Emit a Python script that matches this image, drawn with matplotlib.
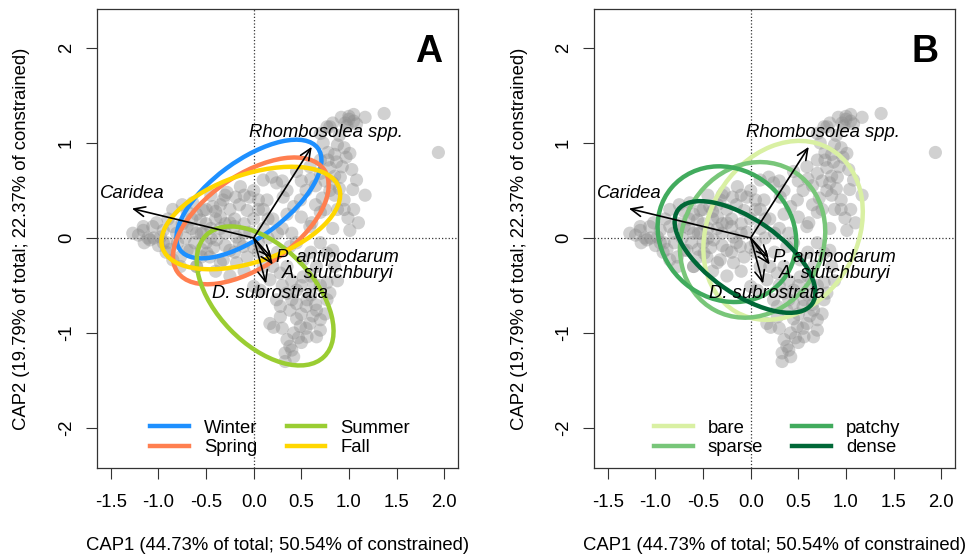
import matplotlib

matplotlib.use('Agg')

import matplotlib.pyplot as plt
from matplotlib.patches import Ellipse

plt.rcParams['font.family'] = ['Liberation Sans', 'DejaVu Sans']
plt.rcParams['axes.unicode_minus'] = False

# site scores (CAP1, CAP2)
cap1 = [1.17, 1.37, 1.94, 0.96, 1.00, 1.05, 0.92, 0.80, 1.01, 0.87, 1.03, 1.08, 1.04, 1.17,
        0.80, 0.91, 0.78, 0.70, 0.99, 1.10, 1.01, 0.83, 0.70, 0.59, 0.83, 0.77, 0.77, 0.78,
        0.83, 0.49, 0.42, 0.61, 0.19, 0.10, 0.24, 0.70, 0.59, 0.73, 0.83, 0.14, 0.31, 0.88,
        0.95, 0.85, 0.93, 0.65, 0.55, 0.35, 0.50, 0.72, 0.88, 0.95,
        1.00, 1.05, 0.98, 1.08, 0.75, 0.80, 0.90, 0.85, 0.65, 0.75, 0.95, 1.05, 0.60, 0.50,
        0.45, 0.35, 0.30, 0.85, 0.97, 0.90, 0.70,
        -0.14, -0.04, -0.19, -0.32, -0.07, -0.43, -0.53, -0.64, -0.56, -0.35, -0.25, -0.70,
        -0.81, -1.06, -1.16, -1.21, -1.09, -0.98, -0.91, -0.53, -0.39, -0.18, -0.04, -0.70,
        -0.49, -0.25, -0.11, -0.35, -0.60, -1.27, -1.16, -1.11, -1.02, -0.95, -0.85, -0.77,
        -0.46, -0.32, -0.18, -0.07, -0.67, -0.77, -0.60,
        -0.60, -0.45, -0.30, -0.20, -0.10, 0.00, -0.40, -0.50, -0.65, -0.75, -0.85, -0.90,
        -0.80, -0.62, -0.50, -0.30, -0.15, 0.05, 0.10, 0.20, 0.25, 0.10, -0.25, -0.35,
        -0.15, -0.45, -0.28, 0.00, 0.05, -0.55, -0.40, -0.25, -0.10, 0.05, 0.15, 0.30,
        0.40, -0.70, -0.95, -1.00,
        -0.65, -0.55, -0.45, -0.35, -0.30, -0.20, -0.10, -0.60, -0.50, -0.40, -0.72, -0.88,
        -0.55, -0.42, -0.20, 0.00, -0.30, -0.10, 0.05, 0.15, -0.75, -0.85, -1.05, -1.15,
        -0.92,
        0.17, 0.28, 0.38, 0.45, 0.56, 0.66, 0.70, 0.59, 0.49, 0.42, 0.35, 0.38, 0.33, 0.42,
        0.66, 0.56, 0.70, 0.77, 0.80, 0.63, 0.45, 0.35, 0.24, 0.52, 0.38, 0.45, 0.28, 0.52,
        0.66, 0.77, 0.17, 0.28, 0.21, 0.00, 0.07, 0.60, 0.65, 0.50, 0.45, 0.62, 0.55, 0.40,
        0.30, 0.20, 0.35, 0.60, 0.70, 0.85, 0.88, 0.50, 0.40, 0.33,
        0.50, 0.60, 0.70, 0.75, 0.55, 0.47, 0.30, 0.40, 0.25, 0.10]
cap2 = [1.27, 1.31, 0.90, 1.21, 1.25, 1.23, 1.27, 1.17, 0.89, 0.80, 0.72, 0.61, 0.51, 0.45,
        0.74, 0.64, 0.90, 0.82, 0.21, 0.16, 0.08, 0.10, 0.27, 0.12, -0.13, -0.16, 1.17, 0.82,
        0.58, 0.40, 0.33, 0.16, 0.64, 0.61, 0.58, 0.68, 0.75, 1.00, 1.21, 0.40, 0.43, 0.98,
        0.95, 0.88, 0.75, 0.55, 0.50, 0.25, 0.22, 0.42, 0.30, 0.40,
        1.28, 1.30, 1.18, 1.20, 0.60, 0.50, 0.52, 0.45, 0.35, 0.30, 0.30, 0.30, 0.62, 0.60,
        0.70, 0.50, 0.60, 0.65, 0.85, 1.08, 1.10,
        0.54, 0.43, 0.43, 0.40, 0.29, 0.33, 0.29, 0.37, 0.19, 0.22, 0.16, 0.12,
        0.05, 0.12, 0.08, 0.03, -0.02, 0.01, -0.05, 0.05, -0.02, 0.01, 0.06, -0.13,
        -0.16, -0.13, -0.09, -0.26, -0.30, 0.05, 0.12, 0.00, 0.16, -0.05, -0.23, -0.30,
        -0.20, -0.23, -0.26, -0.20, -0.13, -0.20, -0.30,
        0.05, 0.10, 0.05, 0.12, 0.15, 0.20, 0.20, 0.15, 0.20, 0.15, 0.12, 0.20,
        -0.05, -0.05, -0.05, -0.08, -0.05, -0.05, 0.10, 0.20, 0.05, 0.30, 0.30, 0.35,
        0.35, 0.45, 0.48, 0.50, 0.40, -0.20, -0.35, -0.40, -0.35, -0.15, 0.00, 0.10,
        0.05, 0.28, 0.08, -0.08,
        0.10, 0.05, 0.00, 0.10, 0.15, 0.20, 0.05, 0.25, 0.30, 0.28, 0.00, -0.12,
        -0.12, -0.10, -0.15, -0.10, 0.45, 0.45, 0.30, 0.20, 0.35, 0.30, 0.00, -0.05,
        -0.15,
        -0.90, -0.83, -0.76, -0.69, -0.65, -0.76, -0.86, -0.90, -0.93, -1.00, -1.07, -1.14,
        -1.21, -1.25, -1.04, -1.04, -0.97, -0.65, -0.58, -0.48, -0.55, -0.58, -0.65, -0.41,
        -0.09, -0.05, -0.37, -0.23, -0.30, -0.47, -0.44, -0.72, -0.94, -0.51, -0.55, -0.60,
        -0.70, -0.80, -0.85, -0.82, -0.72, -0.45, -0.50, -0.30, -0.30, -0.15, -0.05, -0.30,
        -0.45, -1.10, -1.18, -1.30,
        -0.50, -0.40, -0.50, -0.80, -0.95, -1.05, -0.95, -0.65, -0.15, -0.30]

# species vectors
species = ['Rhombosolea spp.', 'Caridea', 'P. antipodarum', 'A. stutchburyi', 'D. subrostrata']
sp_x = [0.61, -1.28, 0.19, 0.20, 0.13]
sp_y = [0.96, 0.31, -0.21, -0.28, -0.48]
lab_x = [0.76, -1.28, 0.88, 0.88, 0.17]
lab_y = [1.105, 0.47, -0.21, -0.37, -0.58]

# group ellipses: centre x, centre y, semi-axis a, semi-axis b, angle
seasons = ['Winter', 'Spring', 'Summer', 'Fall']
season_cols = ['#1E90FF', '#FF7F50', '#9ACD32', '#FFD700']
season_cx = [-0.05, -0.03, 0.12, -0.03]
season_cy = [0.41, 0.18, -0.61, 0.21]
season_a = [0.90, 0.94, 0.89, 0.98]
season_b = [0.40, 0.48, 0.51, 0.46]
season_ang = [36.5, 35, -46, 19]

cover = ['bare', 'sparse', 'patchy', 'dense']
cover_cols = ['#D9F0A3', '#78C679', '#41AB5D', '#006837']
cover_cx = [0.34, 0.02, -0.25, -0.06]
cover_cy = [0.08, -0.02, 0.04, -0.20]
cover_a = [0.99, 0.84, 0.76, 0.86]
cover_b = [0.78, 0.74, 0.68, 0.39]
cover_ang = [60, 62, -40, -35]

FS = 13.3


def draw_panel(ax, letter, names, cols, cx, cy, aa, bb, ang):
    ax.axhline(0, ls=':', color='#333333', lw=0.9, zorder=1)
    ax.axvline(0, ls=':', color='#333333', lw=0.9, zorder=1)
    ax.scatter(cap1, cap2, s=90, color='#8c8c8c', alpha=0.4, edgecolors='none', zorder=2)

    for i in range(len(names)):
        e = Ellipse((cx[i], cy[i]), 2 * aa[i], 2 * bb[i], angle=ang[i],
                    fill=False, edgecolor=cols[i], lw=3.2, zorder=3)
        ax.add_patch(e)

    for i in range(len(species)):
        ax.annotate('', xy=(sp_x[i], sp_y[i]), xytext=(0, 0),
                    arrowprops=dict(arrowstyle='->,head_length=0.8,head_width=0.35',
                                    lw=1.2, color='k', shrinkA=0, shrinkB=0), zorder=4)
        ax.text(lab_x[i], lab_y[i], species[i], style='italic', fontsize=FS,
                ha='center', va='center', zorder=5)

    handles = [plt.Line2D([], [], color=c, lw=3.2) for c in cols]
    ax.legend(handles, names, ncol=2, frameon=False, fontsize=FS, loc='lower center',
              bbox_to_anchor=(0.507, 0.005), handlelength=2.1, handletextpad=0.8,
              columnspacing=1.6, labelspacing=0.15, borderpad=0)

    ax.text(0.918, 0.906, letter, transform=ax.transAxes, fontsize=27, fontweight='bold',
            ha='center', va='center')

    ax.set_xlim(-1.646, 2.146)
    ax.set_ylim(-2.421, 2.41)
    ax.set_xticks([-1.5, -1.0, -0.5, 0.0, 0.5, 1.0, 1.5, 2.0])
    ax.set_xticklabels(['-1.5', '-1.0', '-0.5', '0.0', '0.5', '1.0', '1.5', '2.0'])
    ax.set_yticks([-2, -1, 0, 1, 2])
    ax.tick_params(direction='out', length=8, width=0.8, labelsize=FS, color='#333333')
    ax.tick_params(axis='x', pad=11)
    ax.tick_params(axis='y', pad=8)
    plt.setp(ax.get_yticklabels(), rotation=90, va='center')
    for sp in ax.spines.values():
        sp.set_linewidth(0.9)
        sp.set_color('#333333')


fig = plt.figure(figsize=(9.79, 5.6), dpi=100)
ax1 = fig.add_axes([97 / 979, 92 / 560, 361 / 979, 459 / 560])
ax2 = fig.add_axes([594 / 979, 92 / 560, 361 / 979, 459 / 560])

draw_panel(ax1, 'A', seasons, season_cols, season_cx, season_cy, season_a, season_b, season_ang)
draw_panel(ax2, 'B', cover, cover_cols, cover_cx, cover_cy, cover_a, cover_b, cover_ang)

xlab = 'CAP1 (44.73% of total; 50.54% of constrained)'
ylab = 'CAP2 (19.79% of total; 22.37% of constrained)'
for left in (97, 594):
    fig.text((left + 180.5) / 979, 1 - 546 / 560, xlab, fontsize=FS, ha='center', va='center')
    fig.text((left - 75) / 979, 1 - 238.5 / 560, ylab, fontsize=FS, rotation=90,
             ha='center', va='center')

fig.savefig('out.png', dpi=100)
